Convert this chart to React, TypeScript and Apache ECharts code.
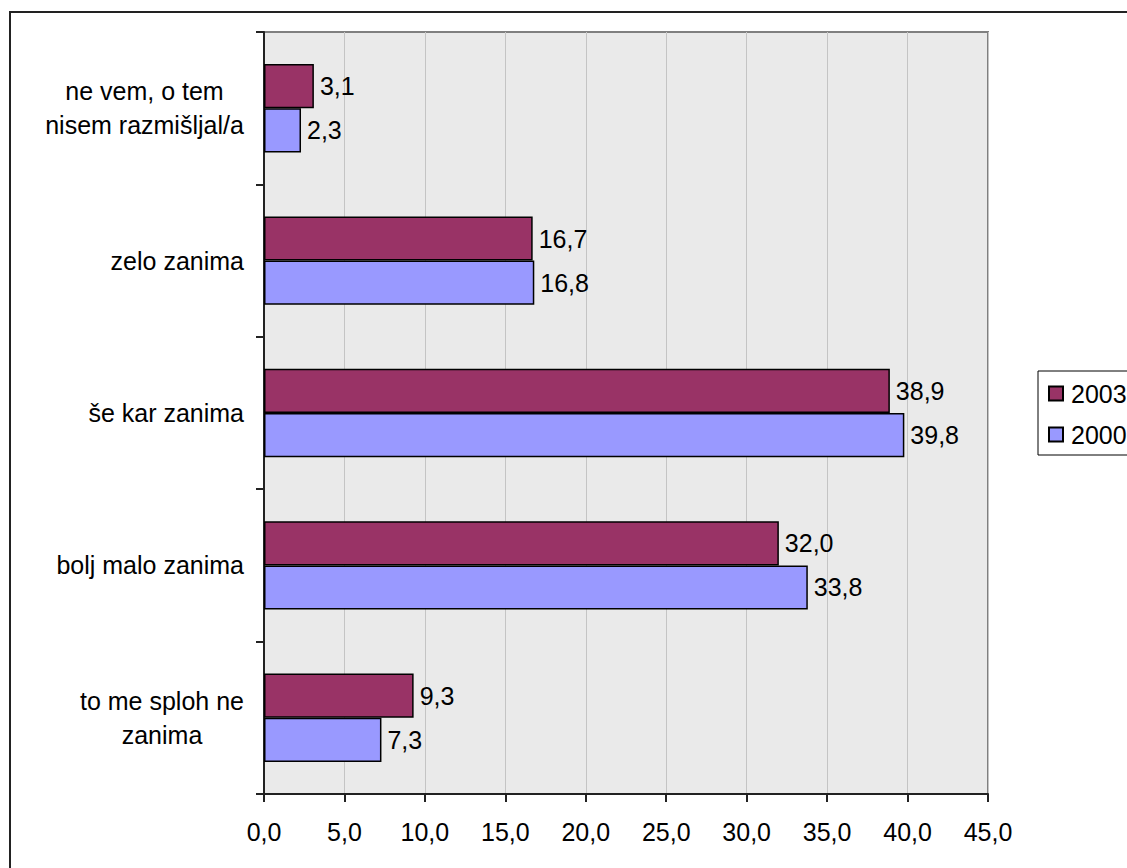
import React, { useEffect, useRef } from "react";
import * as echarts from "echarts";

const categories = [
  "to me sploh ne\nzanima",
  "bolj malo zanima",
  "še kar zanima",
  "zelo zanima",
  "ne vem, o tem\nnisem razmišljal/a",
];
const seriesNames = ["2003", "2000"];
const values2003 = [9.3, 32.0, 38.9, 16.7, 3.1];
const values2000 = [7.3, 33.8, 39.8, 16.8, 2.3];
const xTicks = { min: 0, max: 45, interval: 5 };

const FONT = '"Liberation Sans", Arial, sans-serif';
const FS = 25;

function fmt(v: number) {
  return v.toFixed(1).replace(".", ",");
}

function measure(text: string) {
  const c = document.createElement("canvas");
  const ctx = c.getContext("2d")!;
  ctx.font = `${FS}px "Liberation Sans"`;
  return ctx.measureText(text).width;
}

export default function App() {
  const ref = useRef<HTMLDivElement>(null);
  useEffect(() => {
    if (!ref.current) return;
    const chart = echarts.init(ref.current, undefined, { renderer: "svg" });

    const rich: Record<string, any> = {};
    categories.forEach((cat, i) => {
      const lines = cat.split("\n");
      if (lines.length > 1) {
        const w = Math.ceil(Math.max(...lines.map(measure)));
        rich["c" + i] = {
          width: w,
          align: "center",
          fontSize: FS,
          fontFamily: FONT,
          color: "#000",
          lineHeight: 34,
        };
      }
    });

    chart.setOption({
      animation: false,
      backgroundColor: "#fff",
      graphic: [
        {
          type: "rect",
          shape: { x: 10, y: 12, width: 1200, height: 900 },
          style: { fill: "none", stroke: "#222", lineWidth: 2 },
          silent: true,
          z: 100,
        },
      ],
      legend: {
        orient: "vertical",
        left: 1038,
        top: 371,
        data: seriesNames,
        icon: "rect",
        itemWidth: 14,
        itemHeight: 14,
        itemGap: 16,
        padding: [10, 40, 8, 10],
        borderColor: "#000",
        borderWidth: 1,
        backgroundColor: "#fff",
        textStyle: {
          fontSize: FS,
          fontFamily: FONT,
          color: "#000",
          padding: [0, 0, 0, 3],
        },
      },
      grid: {
        left: 264,
        top: 32,
        right: 139,
        bottom: 74,
        show: true,
        backgroundColor: "#EAEAEA",
        borderColor: "#808080",
        borderWidth: 2,
      },
      xAxis: {
        type: "value",
        min: xTicks.min,
        max: xTicks.max,
        interval: xTicks.interval,
        axisLine: { show: true, lineStyle: { color: "#222", width: 2 } },
        axisTick: { show: true, length: 8, lineStyle: { color: "#222", width: 2 } },
        axisLabel: {
          formatter: (v: number) => fmt(v),
          fontSize: FS,
          fontFamily: FONT,
          color: "#000",
          margin: 25,
        },
        splitLine: { show: true, lineStyle: { color: "#C4C4C4", width: 1 } },
      },
      yAxis: {
        type: "category",
        data: categories,
        axisLine: { show: true, lineStyle: { color: "#222", width: 2 } },
        axisTick: { show: true, length: 8, lineStyle: { color: "#222", width: 2 } },
        axisLabel: {
          fontSize: FS,
          fontFamily: FONT,
          color: "#000",
          margin: 20,
          lineHeight: 34,
          formatter: (v: string, idx: number) => {
            const lines = v.split("\n");
            if (lines.length === 1) return v;
            return lines.map((l) => `{c${idx}|${l}}`).join("\n");
          },
          rich,
        },
        splitLine: { show: false },
      },
      series: [
        {
          name: seriesNames[0],
          type: "bar",
          data: values2003,
          barGap: "0%",
          barCategoryGap: "42%",
          itemStyle: { color: "#993366", borderColor: "#000", borderWidth: 1.5 },
          label: {
            show: true,
            position: "right",
            distance: 6,
            formatter: (p: any) => fmt(p.value),
            fontSize: FS,
            fontFamily: FONT,
            color: "#000",
          },
        },
        {
          name: seriesNames[1],
          type: "bar",
          data: values2000,
          barGap: "0%",
          barCategoryGap: "42%",
          itemStyle: { color: "#9999FF", borderColor: "#000", borderWidth: 1.5 },
          label: {
            show: true,
            position: "right",
            distance: 6,
            formatter: (p: any) => fmt(p.value),
            fontSize: FS,
            fontFamily: FONT,
            color: "#000",
          },
        },
      ],
    });
    return () => chart.dispose();
  }, []);
  return (
    <div
      ref={ref}
      style={{ position: "fixed", left: 0, top: 0, width: 1127, height: 868 }}
    />
  );
}
